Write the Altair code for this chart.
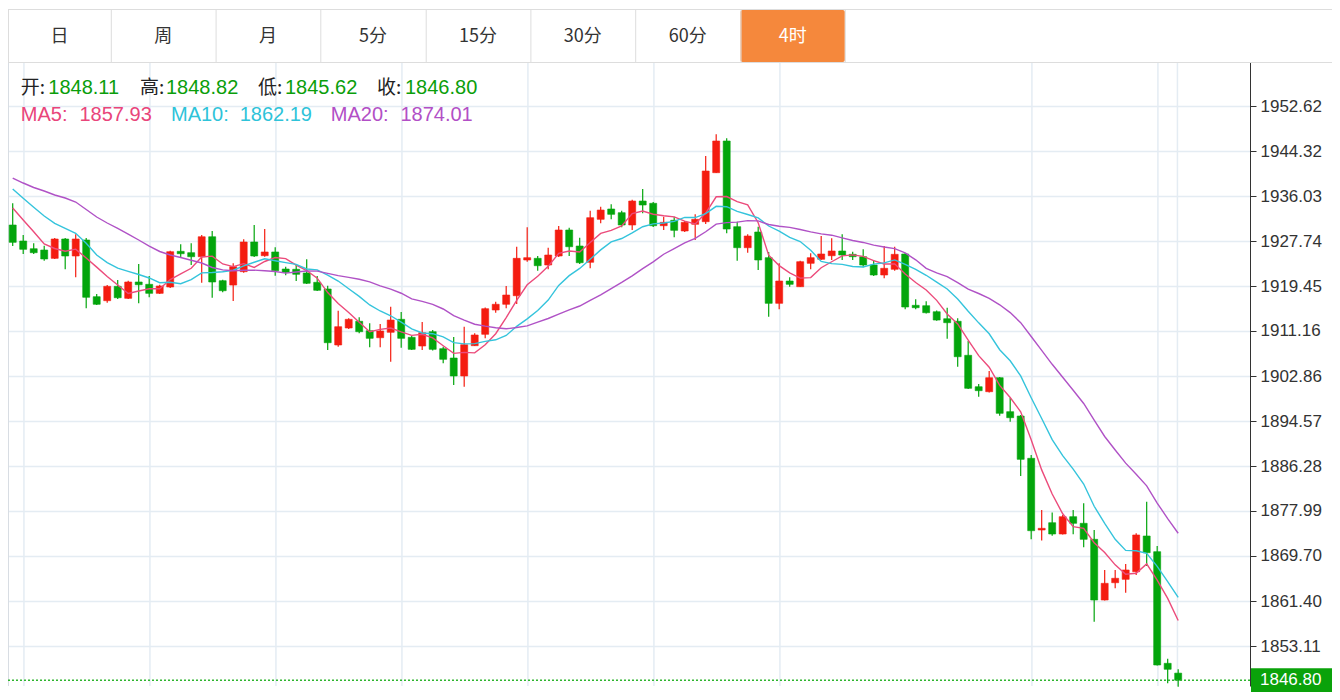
import altair as alt
import pandas as pd

# ---------------- data ----------------
opens = [
    1930.69, 1927.74, 1926.32, 1926.08, 1924.55, 1928.11, 1924.98, 1927.93, 1917.48, 1916.74,
    1919.39, 1917.18, 1920.19, 1919.76, 1918.10, 1919.27, 1925.84, 1925.59, 1924.85, 1928.53,
    1920.43, 1919.63, 1922.09, 1927.56, 1925.03, 1925.72, 1922.58, 1922.53, 1921.85, 1920.13,
    1918.90, 1908.58, 1911.71, 1912.95, 1911.21, 1909.92, 1910.92, 1913.31, 1909.99, 1908.39,
    1911.03, 1907.90, 1906.18, 1902.87, 1908.45, 1910.55, 1915.03, 1916.08, 1917.66, 1924.24,
    1924.55, 1923.32, 1924.98, 1929.77, 1926.82, 1923.82, 1931.74, 1933.64, 1932.96, 1930.69,
    1935.11, 1934.69, 1930.56, 1931.56, 1929.59, 1930.82, 1931.30, 1940.33, 1946.17, 1930.38,
    1926.51, 1929.40, 1924.67, 1916.26, 1920.37, 1919.32, 1923.63, 1924.37, 1925.03, 1925.90,
    1925.29, 1924.85, 1923.32, 1921.48, 1922.53, 1925.35, 1915.89, 1915.82, 1914.71, 1913.42,
    1912.95, 1906.68, 1900.89, 1899.97, 1902.55, 1896.29, 1895.49, 1887.70, 1874.49, 1875.83,
    1873.75, 1876.94, 1875.72, 1872.77, 1861.59, 1864.77, 1865.40, 1866.80, 1873.38, 1870.49,
    1849.92, 1848.11]
highs = [
    1934.69, 1928.85, 1927.32, 1926.88, 1928.30, 1928.30, 1928.98, 1928.30, 1917.98, 1919.63,
    1920.56, 1920.43, 1923.50, 1921.29, 1919.69, 1925.96, 1927.13, 1927.32, 1928.85, 1929.59,
    1920.62, 1923.63, 1928.06, 1930.69, 1929.95, 1926.58, 1923.01, 1923.32, 1924.39, 1921.29,
    1919.51, 1914.90, 1913.49, 1913.68, 1912.57, 1912.45, 1915.64, 1914.66, 1910.24, 1912.82,
    1911.34, 1908.26, 1910.05, 1911.95, 1910.73, 1915.49, 1916.55, 1919.45, 1926.69, 1930.27,
    1924.98, 1926.51, 1930.51, 1930.20, 1928.35, 1933.33, 1934.06, 1934.51, 1933.33, 1935.35,
    1937.32, 1934.93, 1932.22, 1932.22, 1931.43, 1932.66, 1943.41, 1947.40, 1946.67, 1931.30,
    1928.98, 1930.38, 1925.72, 1923.63, 1921.05, 1924.11, 1925.48, 1928.66, 1928.24, 1928.98,
    1925.77, 1926.21, 1924.24, 1926.82, 1926.69, 1925.53, 1917.00, 1916.63, 1914.93, 1915.45,
    1913.49, 1909.31, 1901.39, 1903.79, 1902.68, 1898.87, 1895.68, 1888.30, 1878.17, 1877.71,
    1877.25, 1878.17, 1879.41, 1874.49, 1867.12, 1867.12, 1868.22, 1873.88, 1879.70, 1871.54,
    1850.77, 1848.82]
lows = [
    1926.82, 1925.35, 1925.35, 1924.11, 1924.43, 1922.53, 1921.05, 1915.34, 1915.95, 1916.37,
    1917.05, 1917.05, 1916.26, 1917.37, 1917.98, 1919.08, 1924.67, 1923.32, 1920.06, 1917.29,
    1918.29, 1916.69, 1921.90, 1924.80, 1924.85, 1921.35, 1921.42, 1920.37, 1919.82, 1918.53,
    1907.66, 1908.26, 1911.53, 1910.73, 1908.15, 1908.15, 1905.50, 1908.08, 1907.66, 1907.66,
    1907.56, 1905.20, 1901.21, 1900.89, 1908.39, 1909.81, 1914.53, 1915.34, 1916.13, 1923.93,
    1922.27, 1922.53, 1924.80, 1924.98, 1923.50, 1922.71, 1931.00, 1931.74, 1930.27, 1929.77,
    1932.85, 1930.32, 1929.77, 1928.42, 1929.40, 1927.93, 1930.87, 1940.27, 1929.16, 1924.11,
    1925.59, 1922.40, 1913.79, 1915.16, 1919.32, 1919.27, 1922.53, 1924.24, 1924.24, 1924.24,
    1924.24, 1922.90, 1921.29, 1920.87, 1922.27, 1915.16, 1915.16, 1914.38, 1913.06, 1909.74,
    1904.58, 1900.47, 1899.05, 1899.82, 1895.55, 1894.44, 1884.44, 1872.77, 1872.55, 1873.44,
    1873.66, 1873.69, 1871.30, 1857.59, 1861.50, 1863.74, 1862.93, 1866.19, 1867.85, 1849.52,
    1846.24, 1845.62]
closes = [
    1927.50, 1926.21, 1925.59, 1924.43, 1928.11, 1924.98, 1928.11, 1917.37, 1916.08, 1919.39,
    1917.29, 1920.19, 1919.69, 1918.10, 1919.45, 1925.77, 1925.40, 1924.85, 1928.53, 1920.19,
    1918.58, 1923.01, 1927.56, 1924.98, 1925.72, 1922.27, 1921.97, 1921.61, 1919.95, 1918.66,
    1909.00, 1911.95, 1913.31, 1911.03, 1909.81, 1911.16, 1913.18, 1909.81, 1907.78, 1910.84,
    1907.78, 1905.94, 1902.87, 1908.63, 1910.42, 1915.27, 1916.08, 1917.79, 1924.55, 1924.67,
    1923.19, 1925.16, 1929.77, 1926.69, 1923.74, 1932.04, 1933.45, 1932.66, 1930.69, 1935.11,
    1934.38, 1930.56, 1931.19, 1929.71, 1931.19, 1931.74, 1940.64, 1946.17, 1929.95, 1926.51,
    1928.66, 1924.24, 1916.26, 1920.37, 1919.76, 1923.93, 1924.67, 1925.35, 1925.90, 1925.16,
    1924.85, 1923.32, 1921.48, 1922.71, 1925.29, 1915.58, 1915.45, 1914.53, 1913.18, 1912.69,
    1906.42, 1900.60, 1900.16, 1902.55, 1895.99, 1895.18, 1887.51, 1874.36, 1874.80, 1873.75,
    1876.94, 1875.72, 1872.77, 1861.59, 1864.66, 1865.59, 1867.12, 1873.57, 1870.30, 1849.61,
    1848.82, 1846.80]

# moving-average values visible at the start (they depend on earlier, unseen bars)
ma5_head = [1933.82, 1931.61, 1929.46, 1927.19]
ma10_head = [1937.32, 1935.61, 1933.95, 1932.35, 1931.00, 1930.08, 1929.16, 1927.32, 1925.16]
ma20_head = [1939.35, 1938.43, 1937.60, 1936.96, 1936.22, 1935.67, 1934.93, 1933.55, 1932.17,
             1931.06, 1930.05, 1929.03, 1927.93, 1926.82, 1925.81, 1925.16, 1924.70, 1924.19,
             1923.69]

price_ticks = [1952.62, 1944.32, 1936.03, 1927.74, 1919.45, 1911.16, 1902.86, 1894.57,
               1886.28, 1877.99, 1869.70, 1861.40, 1853.11]
grid_bars = [1.07, 13.07, 25.07, 37.07, 49.07, 61.07, 73.07, 97.07, 109.07, 110.93]

tabs = ["日", "周", "月", "5分", "15分", "30分", "60分", "4时"]
header_labels = ["开:", "高:", "低:", "收:"]
header_values = ["1848.11", "1848.82", "1845.62", "1846.80"]
ma_labels = ["MA5:", "MA10:", "MA20:"]
ma_values = ["1857.93", "1862.19", "1874.01"]

# ---------------- build table ----------------
df = pd.DataFrame({"i": list(range(len(closes))), "open": opens, "high": highs,
                   "low": lows, "close": closes})
df["dir"] = ["up" if c >= o else "down" for o, c in zip(opens, closes)]
ma5 = df["close"].rolling(5).mean()
ma10 = df["close"].rolling(10).mean()
ma20 = df["close"].rolling(20).mean()
ma5.iloc[:len(ma5_head)] = ma5_head
ma10.iloc[:len(ma10_head)] = ma10_head
ma20.iloc[:len(ma20_head)] = ma20_head
df["ma5"], df["ma10"], df["ma20"] = ma5, ma10, ma20

RED, GREEN = "#f41c10", "#03a50c"
VAL_GREEN = "#0a9e0a"
MA_COLORS = ["#e9457a", "#2ec3d9", "#b24fc6"]
GRID = "#e4ecf3"
W, H = 1242, 624
PAD = {"left": 0, "top": 54, "right": 82, "bottom": 6}

XS = alt.Scale(domain=[-0.448, 117.84], nice=False, zero=False, padding=0)
YS = alt.Scale(domain=[1845.74, 1960.73], nice=False, zero=False)
AX = alt.Axis(orient="right", values=price_ticks, format=".2f", labelFont="Liberation Sans",
              labelFontSize=17, labelColor="#333333", domainColor="#333333", tickColor="#333333",
              tickSize=6, labelPadding=4, grid=True, gridColor=GRID, gridWidth=1.5,
              labelFlush=False, labelOverlap=False, title=None)
X = alt.X("i:Q", scale=XS, axis=None, title=None)
col = alt.Color("dir:N", scale=alt.Scale(domain=["up", "down"], range=[RED, GREEN]), legend=None)


def Y(f):
    return alt.Y(f"{f}:Q", scale=YS, axis=AX, title=None)


base = alt.Chart(df)

vgrid = alt.Chart(pd.DataFrame({"g": grid_bars})).mark_rule(color=GRID, strokeWidth=1.5).encode(
    x=alt.X("g:Q", scale=XS, axis=None, title=None))
left_edge = alt.Chart(pd.DataFrame({"k": [0]})).mark_rule(color="#d8dde3", strokeWidth=1).encode(
    x=alt.value(0.5), y=alt.value(0), y2=alt.value(H))

wicks = base.mark_rule(strokeWidth=1.2).encode(x=X, y=Y("low"), y2="high", color=col)
bodies = base.mark_bar(width=7, strokeWidth=0.6).encode(
    x=X, y=Y("open"), y2="close", color=col, stroke=col)

lines = []
for f, c in zip(["ma5", "ma10", "ma20"], ["#ec4b7b", "#35c4dc", "#b052c6"]):
    lines.append(base.mark_line(color=c, strokeWidth=1.4).encode(x=X, y=Y(f)))

last = df.tail(1)
dotted = alt.Chart(last).mark_rule(color="#2fb52f", strokeWidth=1.5, strokeDash=[2, 2]).encode(
    y=Y("close"))
box = alt.Chart(last).mark_rect(color="#0aa20a", yOffset=-12, y2Offset=12).encode(
    x=alt.value(W + 1), x2=alt.value(W + PAD["right"]), y=Y("close"), y2="close")
box_txt = alt.Chart(last).mark_text(align="left", baseline="middle", color="white",
                                    font="Liberation Sans", fontSize=17).encode(
    x=alt.value(W + 10), y=Y("close"), text=alt.Text("close:Q", format=".2f"))

ONE = pd.DataFrame({"k": [0]})


def label(txt, x, y, color, size=20, font="Liberation Sans", align="left"):
    return alt.Chart(ONE).mark_text(align=align, baseline="middle", color=color, fontSize=size,
                                    font=font).encode(
        x=alt.value(x), y=alt.value(y), text=alt.value(txt))


# header text (positions relative to the plot's top-left corner)
texts = []
for t, x in zip(header_labels, [12.8, 132, 250, 369]):
    texts.append(label(t, x, 25.5, "#222222", size=19, font="Noto Sans CJK SC"))
for t, x in zip(header_values, [40.3, 158, 277, 397]):
    texts.append(label(t, x, 25.5, VAL_GREEN))
for t, x, c in zip(ma_labels, [12.8, 163, 322.8], MA_COLORS):
    texts.append(label(t, x, 53, c))
for t, x, c in zip(ma_values, [71.5, 231.7, 392.4], MA_COLORS):
    texts.append(label(t, x, 53, c))

# tab bar
tab_edges = [0, 102.8, 207.6, 312.3, 417.7, 522.4, 627.2, 732.5, 836.8]
tab_layers = []
tab_layers.append(alt.Chart(ONE).mark_rect(color="white").encode(
    x=alt.value(0), x2=alt.value(W + PAD["right"]), y=alt.value(-54), y2=alt.value(0)))
tab_layers.append(alt.Chart(ONE).mark_rect(color="#f5883c", cornerRadius=2).encode(
    x=alt.value(tab_edges[7]), x2=alt.value(tab_edges[8]), y=alt.value(-52), y2=alt.value(0)))
tab_layers.append(alt.Chart(ONE).mark_rule(color="#dddddd").encode(
    x=alt.value(0), x2=alt.value(W + PAD["right"]), y=alt.value(-52.5)))
tab_layers.append(alt.Chart(ONE).mark_rule(color="#dddddd").encode(
    x=alt.value(0), x2=alt.value(W + PAD["right"]), y=alt.value(0.5)))
for e in tab_edges:
    tab_layers.append(alt.Chart(ONE).mark_rule(color="#dddddd").encode(
        x=alt.value(e + 0.5), y=alt.value(-52), y2=alt.value(0)))
for k, t in enumerate(tabs):
    cx = (tab_edges[k] + tab_edges[k + 1]) / 2
    tab_layers.append(label(t, cx, -25, "white" if t == "4时" else "#333333", size=18,
                            font="Noto Sans CJK SC", align="center"))

chart = alt.layer(vgrid, left_edge, wicks, bodies, *lines, dotted, box, box_txt,
                  *texts, *tab_layers).properties(
    width=W, height=H, autosize=alt.AutoSizeParams(type="none"), padding=PAD,
    background="white"
).configure_view(stroke=None)

chart.save("out.html", embed_options={"renderer": "svg", "actions": False})
